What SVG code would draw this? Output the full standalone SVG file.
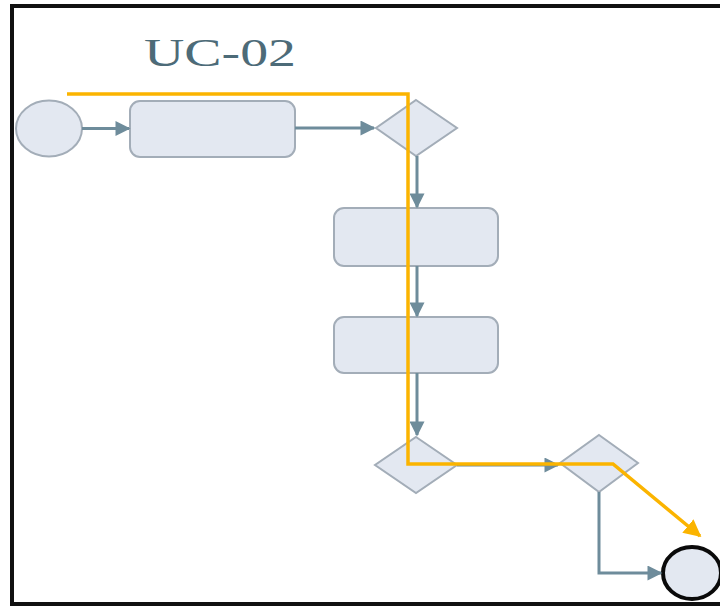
<svg xmlns="http://www.w3.org/2000/svg" width="720" height="606" viewBox="0 0 720 606">
  <style>
    .shape { fill: #e3e8f1; stroke: #a3adb8; stroke-width: 2; }
    .flow { fill: none; stroke: #6e8c9b; stroke-width: 3; }
    .path { fill: none; stroke: #fbb400; stroke-width: 3.5; stroke-linejoin: miter; }
    .title { font-family: "Liberation Serif", "DejaVu Serif", serif; font-size: 40px; fill: #4d6b78; font-variant-numeric: oldstyle-nums; }
  </style>
  <defs>
    <marker id="arrow" viewBox="0 0 10 10" refX="9" refY="5" markerWidth="6" markerHeight="5" markerUnits="strokeWidth" orient="auto">
      <path d="M0,0 L10,5 L0,10 Z" fill="#6e8c9b"/>
    </marker>
    <marker id="arrowYellow" viewBox="0 0 10 10" refX="9" refY="5" markerWidth="5" markerHeight="5" markerUnits="strokeWidth" orient="auto">
      <path d="M0,0 L10,5 L0,10 Z" fill="#fbb400"/>
    </marker>
  </defs>

  <rect x="0" y="0" width="720" height="606" fill="#ffffff"/>
  <!-- frame -->
  <rect x="12" y="6" width="716" height="598" fill="none" stroke="#111111" stroke-width="4"/>

  <text class="title" x="144" y="66" textLength="152" lengthAdjust="spacingAndGlyphs">UC-02</text>

  <g id="start">
    <ellipse class="shape" cx="49" cy="128.5" rx="33" ry="28"/>
  </g>
  <g id="task1">
    <rect class="shape" x="130" y="101" width="165" height="56" rx="10"/>
  </g>
  <g id="decision1">
    <polygon class="shape" points="416,100 457,128 416,156 376,128"/>
  </g>
  <g id="task2">
    <rect class="shape" x="334" y="208" width="164" height="58" rx="10"/>
  </g>
  <g id="task3">
    <rect class="shape" x="334" y="317" width="164" height="56" rx="10"/>
  </g>
  <g id="decision2">
    <polygon class="shape" points="416,437 457,465 416,493 375,465"/>
  </g>
  <g id="decision3">
    <polygon class="shape" points="599,435 638,463 599,492 560,463"/>
  </g>
  <g id="end">
    <ellipse cx="692" cy="573" rx="29" ry="26" fill="#e3e8f1" stroke="#0a0a0a" stroke-width="4"/>
  </g>

  <g id="connectors">
    <line class="flow" x1="82" y1="128.5" x2="129" y2="128.5" marker-end="url(#arrow)"/>
    <line class="flow" x1="295" y1="128" x2="374" y2="128" marker-end="url(#arrow)"/>
    <line class="flow" x1="417" y1="156" x2="417" y2="207" marker-end="url(#arrow)"/>
    <line class="flow" x1="417" y1="266" x2="417" y2="316" marker-end="url(#arrow)"/>
    <line class="flow" x1="417" y1="373" x2="417" y2="435" marker-end="url(#arrow)"/>
    <line class="flow" x1="457" y1="465" x2="558" y2="465" marker-end="url(#arrow)"/>
    <polyline class="flow" points="599,492 599,573 661,573" marker-end="url(#arrow)"/>
  </g>

  <g id="highlight">
    <polyline class="path" points="67,94 408,94 408,464 613,464 700,536" marker-end="url(#arrowYellow)"/>
  </g>
</svg>
